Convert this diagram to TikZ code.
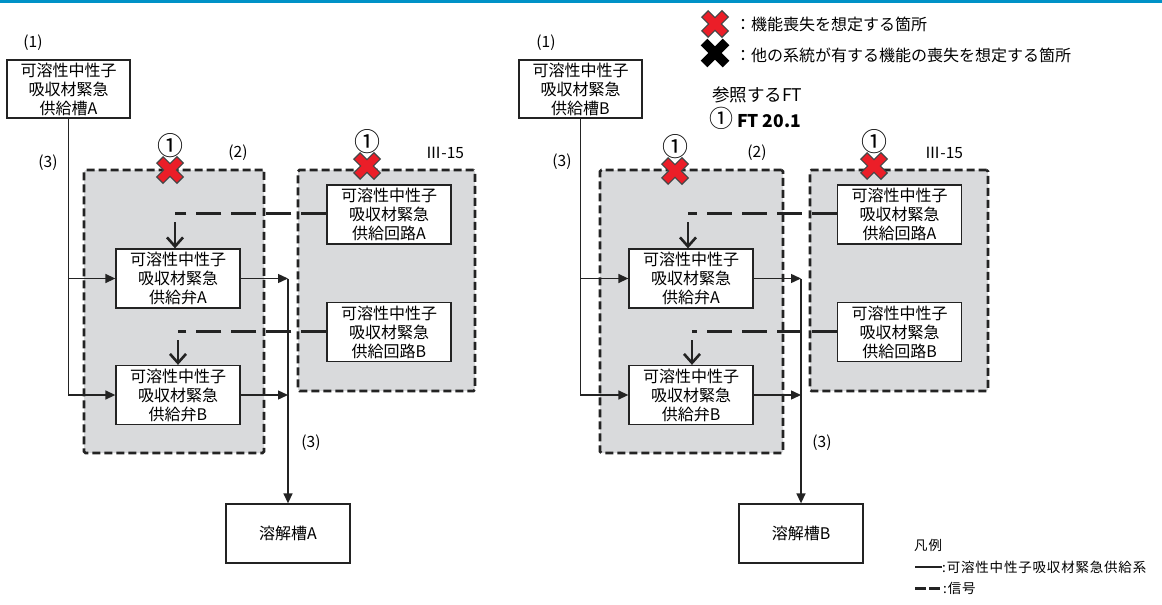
\documentclass[tikz,border=0pt]{standalone}
\usepackage{fontspec}
\setmainfont{Noto Sans CJK JP}
\newfontfamily\legendfont[LetterSpace=6]{Noto Sans CJK JP}
\usetikzlibrary{arrows.meta}
\definecolor{topband}{RGB}{0,146,199}
\definecolor{groupgray}{RGB}{217,218,220}
\definecolor{crossred}{RGB}{235,30,40}
\definecolor{crossedge}{RGB}{70,70,70}
\definecolor{linegray}{RGB}{35,35,35}
\tikzset{
    unit/.style={draw=linegray, line width=1.3pt, fill=white, minimum width=124pt, minimum height=59pt, inner sep=0pt, align=center, font=\fontsize{16}{19}\selectfont},
    group/.style={draw=linegray, fill=groupgray, line width=2.6pt, dash pattern=on 8pt off 4pt, rounded corners=1.5pt},
    flow/.style={draw=linegray, line width=1.4pt, -{Triangle[length=10pt,width=9pt]}},
    signal/.style={draw=linegray, line width=3pt, dash pattern=on 25pt off 10pt},
    sigarrow/.style={draw=linegray, line width=2.6pt, -{Straight Barb[length=9pt,width=16pt]}},
    tag/.style={inner sep=0pt, font=\fontsize{15.5}{18}\selectfont},
    refmark/.style={inner sep=0pt, font=\fontsize{26}{26}\selectfont},
    redcross/.pic={
        \draw[line width=10pt, crossedge] (-10.5,-10.5) -- (10.5,10.5) (-10.5,10.5) -- (10.5,-10.5);
        \draw[line width=7.5pt, crossred] (-9.5,-9.5) -- (9.5,9.5) (-9.5,9.5) -- (9.5,-9.5);
    },
    blackcross/.pic={
        \draw[line width=9.5pt, black] (-11,-11) -- (11,11) (-11,11) -- (11,-11);
    }
}

\begin{document}
\begin{tikzpicture}[x=1pt,y=-1pt]
\useasboundingbox (0,0) rectangle (1162,605);
\fill[topband] (0,0) rectangle (1162,3);

% System A: groups behind the units
\node[group, minimum width=180pt, minimum height=283pt] (grpA2) at (174,311.5) {};
\node[group, minimum width=177pt, minimum height=221pt] (grpA3) at (386.5,280.5) {};

% System A: units
\node[unit, minimum width=123pt, minimum height=58pt] (tankA) at (68.5,89) {可溶性中性子\\吸収材緊急\\供給槽A};
\node[unit] (vlvA1) at (178,278.5) {可溶性中性子\\吸収材緊急\\供給弁A};
\node[unit] (vlvA2) at (178,395) {可溶性中性子\\吸収材緊急\\供給弁B};
\node[unit] (cctA1) at (389,214.5) {可溶性中性子\\吸収材緊急\\供給回路A};
\node[unit] (cctA2) at (389,332) {可溶性中性子\\吸収材緊急\\供給回路B};
\node[unit] (dslA) at (288,533.5) {溶解槽A};

% System A: signals
\coordinate (sigA1) at (175,213);
\coordinate (sigA2) at (178,331);
\draw[signal] (cctA1.west |- sigA1) -- (sigA1);
\draw[sigarrow] ([yshift=-9pt]sigA1) -- (vlvA1.north -| sigA1);
\draw[signal] (cctA2.west |- sigA2) -- (sigA2);
\draw[sigarrow] ([yshift=-9pt]sigA2) -- (vlvA2.north -| sigA2);

% System A: flow
\coordinate (outA) at (dslA.north |- vlvA1.east);
\draw[flow] (tankA.south) |- (vlvA2.west);
\draw[flow] (tankA.south |- vlvA1.west) -- (vlvA1.west);
\draw[flow] (vlvA1.east) -- (outA);
\draw[flow] (vlvA2.east) -- (vlvA2.east -| outA);
\draw[flow] (outA) -- (dslA.north);

% System A: labels
\node[tag] (noA1) at (33,43) {(1)};
\node[tag] (noA3) at (48,163) {(3)};
\node[tag] (noA2) at (238,153) {(2)};
\node[tag] (noA4) at (311,443) {(3)};
\node[tag] (secA) at (445,153) {Ⅲ-15};
\node[refmark] (refA2) at (170,146) {①};
\node[refmark] (refA3) at (367,142) {①};
\pic at (170,170) {redcross};
\pic at (367,166) {redcross};

% System B: groups behind the units
\node[group, minimum width=183pt, minimum height=283pt] (grpB2) at (691.5,311.5) {};
\node[group, minimum width=178pt, minimum height=221pt] (grpB3) at (899,280.5) {};

% System B: units
\node[unit, minimum width=123pt, minimum height=58pt] (tankB) at (580.5,89) {可溶性中性子\\吸収材緊急\\供給槽B};
\node[unit] (vlvB1) at (691,278.5) {可溶性中性子\\吸収材緊急\\供給弁A};
\node[unit] (vlvB2) at (691,395) {可溶性中性子\\吸収材緊急\\供給弁B};
\node[unit] (cctB1) at (899.5,214.5) {可溶性中性子\\吸収材緊急\\供給回路A};
\node[unit] (cctB2) at (899.5,332) {可溶性中性子\\吸収材緊急\\供給回路B};
\node[unit] (dslB) at (801,533.5) {溶解槽B};

% System B: signals
\coordinate (sigB1) at (688,213);
\coordinate (sigB2) at (692,331);
\draw[signal] (cctB1.west |- sigB1) -- (sigB1);
\draw[sigarrow] ([yshift=-9pt]sigB1) -- (vlvB1.north -| sigB1);
\draw[signal] (cctB2.west |- sigB2) -- (sigB2);
\draw[sigarrow] ([yshift=-9pt]sigB2) -- (vlvB2.north -| sigB2);

% System B: flow
\coordinate (outB) at (dslB.north |- vlvB1.east);
\draw[flow] (tankB.south) |- (vlvB2.west);
\draw[flow] (tankB.south |- vlvB1.west) -- (vlvB1.west);
\draw[flow] (vlvB1.east) -- (outB);
\draw[flow] (vlvB2.east) -- (vlvB2.east -| outB);
\draw[flow] (outB) -- (dslB.north);

% System B: labels
\node[tag] (noB1) at (546,43) {(1)};
\node[tag] (noB3) at (562,162) {(3)};
\node[tag] (noB2) at (757,153) {(2)};
\node[tag] (noB4) at (822,443) {(3)};
\node[tag] (secB) at (944,153) {Ⅲ-15};
\node[refmark] (refB2) at (675,147) {①};
\node[refmark] (refB3) at (874,142) {①};
\pic at (675,171) {redcross};
\pic at (874,166) {redcross};

% Key of the marks and referred FT
\pic at (715,24) {redcross};
\pic at (715,53) {blackcross};
\node[anchor=west, inner sep=0pt, font=\fontsize{16}{18}\selectfont] (keyRed) at (735,24) {：機能喪失を想定する箇所};
\node[anchor=west, inner sep=0pt, font=\fontsize{16}{18}\selectfont] (keyBlack) at (735,55) {：他の系統が有する機能の喪失を想定する箇所};
\node[anchor=west, inner sep=0pt, font=\fontsize{17.5}{18}\selectfont] (ftHead) at (712,95) {参照するFT};
\node[anchor=west, inner sep=0pt, font=\fontsize{17.5}{18}\selectfont] (ftRef) at (709,118) {{\fontsize{24}{24}\selectfont ①} \textbf{FT 20.1}};

% Legend of the lines
\node[anchor=west, inner sep=0pt, font=\legendfont\fontsize{13.5}{16}\selectfont] (lgHead) at (914,545) {凡例};
\coordinate (lgS1) at (915,567);
\coordinate (lgS2) at (942,567);
\coordinate (lgD1) at (915,588);
\coordinate (lgD2) at (940,588);
\draw[line width=1.3pt, linegray] (lgS1) -- (lgS2);
\draw[line width=3pt, linegray, dash pattern=on 11pt off 3pt] (lgD1) -- (lgD2);
\node[anchor=west, inner sep=0pt, font=\legendfont\fontsize{13.5}{16}\selectfont] (lgFlow) at (lgS2) {:可溶性中性子吸収材緊急供給系};
\node[anchor=west, inner sep=0pt, font=\legendfont\fontsize{13.5}{16}\selectfont] (lgSig) at ([xshift=3pt]lgD2) {:信号};
\end{tikzpicture}
\end{document}
